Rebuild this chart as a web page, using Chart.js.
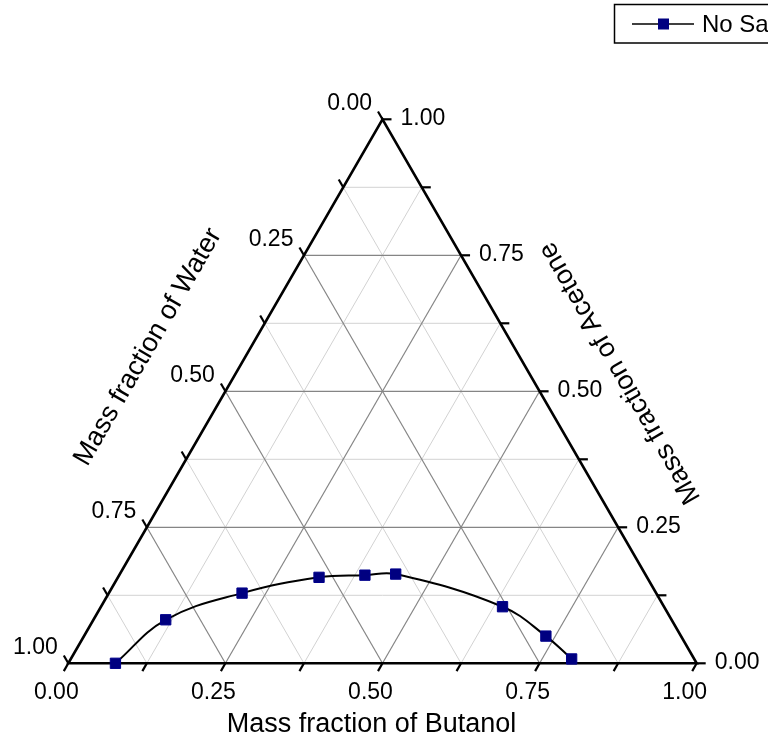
<!DOCTYPE html>
<html>
<head>
<meta charset="utf-8">
<script src="https://cdn.jsdelivr.net/npm/chart.js@4/dist/chart.umd.min.js"></script>
<style>
  html, body { margin: 0; padding: 0; background: #fff; }
  #wrap { width: 768px; height: 746px; position: relative; }
</style>
</head>
<body>
<div id="wrap"><canvas id="c"></canvas></div>
<script>
// Binodal curve, mass fractions (Butanol + Acetone + Water = 1)
const seriesName = 'No Salt';
const butanol = [0.075, 0.115, 0.212, 0.320, 0.391, 0.439, 0.639, 0.735, 0.797];
const acetone = [0.000, 0.080, 0.129, 0.158, 0.162, 0.164, 0.104, 0.050, 0.008];
const water   = [0.925, 0.805, 0.659, 0.522, 0.447, 0.397, 0.257, 0.215, 0.195];

const tickLabels = ['0.00', '0.25', '0.50', '0.75', '1.00'];
const minorStep = 0.125;
const titleBottom = 'Mass fraction of Butanol';
const titleLeft = 'Mass fraction of Water';
const titleRight = 'Mass fraction of Acetone';

const H = Math.sqrt(3) / 2;

// ternary (butanol, acetone, water) -> cartesian, water at lower left, butanol at lower right, acetone on top
function toXY(b, a, w) {
  const s = b + a + w;
  const bb = b / s, aa = a / s;
  return { x: bb + aa / 2, y: aa * H };
}

const points = butanol.map((b, i) => toXY(b, acetone[i], water[i]));

const FONT = '"Liberation Sans", Arial, sans-serif';
const NAVY = '#000080';

const ternaryPlugin = {
  id: 'ternaryFrame',
  beforeDatasetsDraw(chart) {
    const ctx = chart.ctx;
    const sx = chart.scales.x, sy = chart.scales.y;
    const P = (b, a) => {
      const q = toXY(b, a, 1 - b - a);
      return [sx.getPixelForValue(q.x), sy.getPixelForValue(q.y)];
    };
    const line = (p1, p2) => { ctx.beginPath(); ctx.moveTo(p1[0], p1[1]); ctx.lineTo(p2[0], p2[1]); ctx.stroke(); };

    ctx.save();
    const steps = Math.round(1 / minorStep);
    // minor grid first, then major on top
    [false, true].forEach(major => {
      ctx.strokeStyle = major ? '#858585' : '#d2d2d2';
      ctx.lineWidth = major ? 1.2 : 1;
      for (let k = 1; k < steps; k++) {
        const v = k * minorStep;
        const isMajor = (k % 2 === 0);
        if (isMajor !== major) continue;
        line(P(0, v), P(1 - v, v));      // constant acetone
        line(P(v, 0), P(v, 1 - v));      // constant butanol
        line(P(1 - v, 0), P(0, 1 - v));  // constant water
      }
    });

    // triangle frame
    ctx.strokeStyle = '#000';
    ctx.lineWidth = 2.6;
    ctx.lineJoin = 'miter';
    ctx.beginPath();
    const A = P(0, 0), B = P(1, 0), C = P(0, 1);
    ctx.moveTo(A[0], A[1]); ctx.lineTo(B[0], B[1]); ctx.lineTo(C[0], C[1]); ctx.closePath();
    ctx.stroke();

    // ticks and labels
    const TL = 9;
    ctx.lineWidth = 2.2;
    ctx.fillStyle = '#000';
    ctx.font = '23px ' + FONT;
    for (let k = 0; k <= steps; k++) {
      const v = k * minorStep;
      const labelIdx = k % 2 === 0 ? k / 2 : -1;
      // bottom axis: butanol
      let p = P(v, 0);
      let e = [p[0] - 0.5 * TL, p[1] + H * TL];
      line(p, e);
      if (labelIdx >= 0) {
        ctx.textAlign = 'center'; ctx.textBaseline = 'middle';
        ctx.fillText(tickLabels[labelIdx], e[0] - 7.5, p[1] + 29);
      }
      // left axis: water (0 at top, 1 at lower left)
      p = P(0, 1 - v);
      e = [p[0] - 0.5 * TL, p[1] - H * TL];
      line(p, e);
      if (labelIdx >= 0) {
        ctx.textAlign = 'right'; ctx.textBaseline = 'middle';
        ctx.fillText(tickLabels[labelIdx], e[0] - 6, e[1] - 8);
      }
      // right axis: acetone (0 at lower right, 1 at top)
      p = P(1 - v, v);
      e = [p[0] + TL, p[1]];
      line(p, e);
      if (labelIdx >= 0) {
        ctx.textAlign = 'left'; ctx.textBaseline = 'middle';
        ctx.fillText(tickLabels[labelIdx], e[0] + 9, p[1] - 1);
      }
    }

    // axis titles
    ctx.font = '27px ' + FONT;
    ctx.textAlign = 'center';
    ctx.textBaseline = 'middle';
    const bMid = P(0.5, 0);
    ctx.fillText(titleBottom, bMid[0] - 11, bMid[1] + 61);

    ctx.save();
    ctx.translate(148, 347);
    ctx.rotate(-Math.PI / 3);
    ctx.fillText(titleLeft, 0, 0);
    ctx.restore();

    ctx.save();
    ctx.translate(620, 373);
    ctx.rotate(-2 * Math.PI / 3);
    ctx.fillText(titleRight, 0, 0);
    ctx.restore();

    // legend box
    ctx.lineWidth = 1.5;
    ctx.strokeStyle = '#000';
    ctx.strokeRect(614.5, 4.5, 200, 38.5);
    line([632, 24], [694, 24]);
    ctx.fillStyle = NAVY;
    ctx.fillRect(658, 18.5, 11, 11);
    ctx.fillStyle = '#000';
    ctx.font = '24px ' + FONT;
    ctx.textAlign = 'left';
    ctx.textBaseline = 'middle';
    ctx.fillText(seriesName, 702, 25);
    ctx.restore();
  }
};

new Chart(document.getElementById('c'), {
  type: 'scatter',
  data: {
    datasets: [{
      label: seriesName,
      data: points,
      showLine: true,
      tension: 0.4,
      borderColor: '#000',
      borderWidth: 2,
      pointStyle: 'rect',
      pointRadius: 7.3,
      pointHoverRadius: 7.3,
      pointBackgroundColor: NAVY,
      pointBorderColor: '#00008c',
      pointBorderWidth: 1,
      clip: false
    }]
  },
  options: {
    responsive: true,
    maintainAspectRatio: false,
    animation: false,
    events: [],
    layout: { padding: { left: 68.3, right: 71.3, top: 119.3, bottom: 82.7 } },
    scales: {
      x: { type: 'linear', min: 0, max: 1, display: false },
      y: { type: 'linear', min: 0, max: H, display: false }
    },
    plugins: {
      legend: { display: false },
      tooltip: { enabled: false }
    }
  },
  plugins: [ternaryPlugin]
});
</script>
</body>
</html>
